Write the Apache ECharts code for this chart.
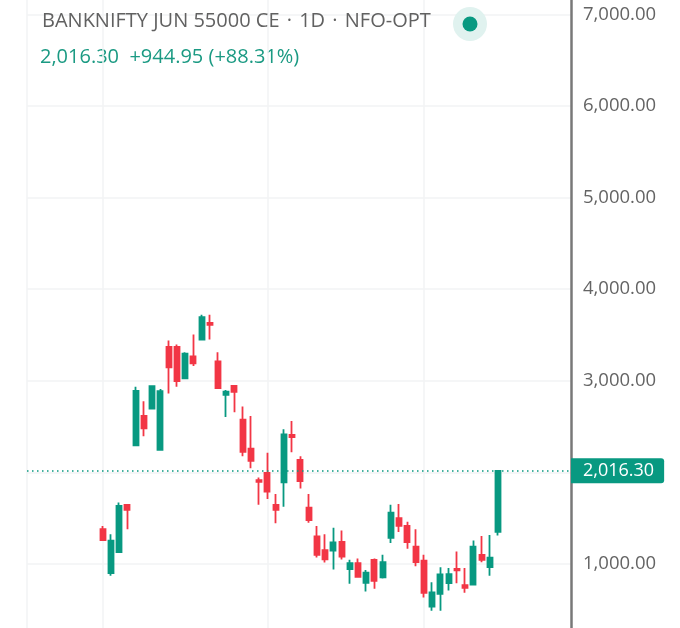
<!DOCTYPE html>
<html>
<head>
<meta charset="utf-8">
<style>html,body{margin:0;padding:0;background:#fff}#c{width:680px;height:628px}</style>
<script src="https://cdn.jsdelivr.net/npm/echarts@6/dist/echarts.min.js"></script>
</head>
<body>
<div id="c"></div>
<script>
const sessions = [0,1,2,3,4,5,6,7,8,9,10,11,12,13,14,15,16,17,18,19,20,21,22,23,24,25,26,27,28,29,30,31,32,33,34,35,36,37,38,39,40,41,42,43,44,45,46,47,48];
const opens  = [1380,900,1130,1645,2295,2615,2695,2245,3370,3370,3025,3265,3450,3630,3210,2845,2945,2575,2260,1915,1995,1645,1890,2410,2135,1615,1300,1150,1145,1240,945,1010,795,1045,855,1285,1500,1415,1190,1035,535,675,790,945,770,775,1100,965,1350];
const closes = [1260,1255,1635,1590,2890,2480,2940,2885,3145,2995,3295,3190,3695,3610,2920,2880,2880,2225,2125,1895,1790,1590,2415,2385,1905,1480,1100,1050,1235,1080,1010,860,905,815,1020,1560,1415,1240,1020,685,690,885,890,930,740,1190,1045,1070,2016.3];
const lows   = [1260,870,1130,1380,2295,2395,2695,2235,2860,2935,3025,3160,3450,3450,2920,2605,2655,2175,2045,1645,1710,1445,1625,2220,1825,1450,1070,1015,940,1050,785,850,700,730,840,1230,1350,1165,975,635,490,490,710,790,685,770,1020,870,1310];
const highs  = [1415,1325,1670,1645,2935,2775,2950,2910,3440,3395,3310,3505,3720,3720,3310,2900,2945,2720,2615,1945,2215,1765,2470,2560,2175,1765,1415,1325,1395,1365,1045,1060,935,1060,1100,1645,1655,1460,1380,1100,800,965,955,1135,955,1255,1305,1315,2016.3];
const yTicks = [1000,2000,3000,4000,5000,6000,7000];
const xGridSessions = [-9.19,0,20,39];
const lastPrice = 2016.30;
const titleText = 'BANKNIFTY JUN 55000 CE \u200A·\u200A 1D \u200A·\u200A NFO-OPT';
const changeText = '2,016.30  +944.95 (+88.31%)';

const GREEN = '#089981', RED = '#f23645', GRID = '#f2f3f5', FONT = '"Open Sans", sans-serif';
const candles = sessions.map((s, i) => [s, opens[i], closes[i], lows[i], highs[i]]);
const fmt = v => v.toLocaleString('en-US', {minimumFractionDigits: 2, maximumFractionDigits: 2});

const chart = echarts.init(document.getElementById('c'), null, {renderer: 'canvas'});
chart.setOption({
  animation: false,
  backgroundColor: '#ffffff',
  grid: {left: 27, right: 109, top: 0, bottom: 0, containLabel: false},
  title: {
    text: titleText, left: 42, top: 11, padding: 0,
    textStyle: {fontFamily: FONT, fontSize: 20, fontWeight: 400, color: '#616161'}
  },
  xAxis: {
    type: 'value', min: -9.19, max: 56.86,
    axisLine: {show: false}, axisLabel: {show: false},
    axisTick: {show: false, customValues: xGridSessions},
    splitLine: {show: true, lineStyle: {color: GRID, width: 1.5}}
  },
  yAxis: {
    type: 'value', position: 'right', min: 301, max: 7156,
    axisLine: {show: true, onZero: false, lineStyle: {color: '#787878', width: 2.5}},
    axisTick: {show: false, customValues: yTicks},
    axisLabel: {
      customValues: yTicks, margin: 12, fontFamily: FONT, fontSize: 18.5, color: '#646464',
      formatter: v => fmt(v)
    },
    splitLine: {show: true, lineStyle: {color: GRID, width: 1.5}}
  },
  series: [{
    type: 'candlestick',
    data: candles,
    encode: {x: 0, y: [1, 2, 3, 4]},
    barWidth: 5.5,
    clip: false,
    itemStyle: {color: GREEN, color0: RED, borderColor: GREEN, borderColor0: RED, borderWidth: 1.8},
    markLine: {
      silent: true, symbol: 'none', animation: false,
      lineStyle: {color: GREEN, type: [1.5, 3.5], width: 1.5},
      label: {
        position: 'end', distance: 0, formatter: () => fmt(lastPrice),
        fontFamily: FONT, fontSize: 18, color: '#ffffff', backgroundColor: GREEN,
        padding: [4, 10, 3, 12], borderRadius: [0, 3, 3, 0]
      },
      data: [{yAxis: lastPrice}]
    }
  }],
  graphic: [
    {type: 'text', left: 40, top: 47, style: {text: changeText, fontFamily: FONT, fontSize: 20, fill: '#1b9a83'}},
    {type: 'circle', shape: {cx: 470, cy: 24, r: 17}, style: {fill: '#e0f2ef'}, z: 10},
    {type: 'circle', shape: {cx: 470, cy: 24, r: 7.5}, style: {fill: GREEN}, z: 11}
  ]
});
</script>
</body>
</html>
